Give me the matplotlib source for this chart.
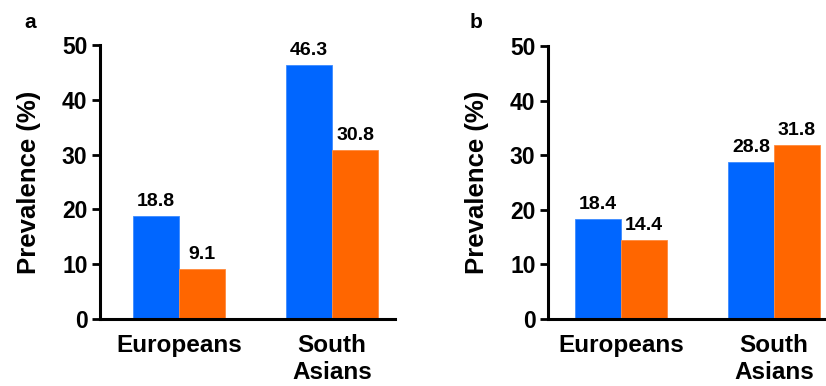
import numpy as np
import matplotlib
matplotlib.use("Agg")
import matplotlib.pyplot as plt

plt.rcParams['font.family'] = ['Liberation Sans', 'DejaVu Sans']
plt.rcParams['font.weight'] = 'bold'

groups = ["Europeans", "South\nAsians"]
blue_a = [18.8, 46.3]
orange_a = [9.1, 30.8]
blue_b = [18.4, 28.8]
orange_b = [14.4, 31.8]
panels = ["a", "b"]

blue = "#0066FF"
orange = "#FF6600"

fig = plt.figure(figsize=(8.26, 3.86), dpi=100)
ax_a = fig.add_axes([100/826, 1-319/386, 295/826, 274/386])
ax_b = fig.add_axes([548/826, 1-319/386, 278/826, 273/386])

def draw(ax, b_vals, o_vals, xlim, letter, letter_x):
    x = np.arange(len(groups))
    w = 0.3
    ax.bar(x - w/2, b_vals, w, color=blue, edgecolor="#3d8bff", linewidth=0.6)
    ax.bar(x + w/2, o_vals, w, color=orange, edgecolor="#ff8a3d", linewidth=0.6)
    for xi, v in zip(x, b_vals):
        ax.text(xi - w/2, v + 1.1, f"{v}", ha="center", va="bottom", fontsize=14, fontweight="bold")
    for xi, v in zip(x, o_vals):
        ax.text(xi + w/2, v + 1.1, f"{v}", ha="center", va="bottom", fontsize=14, fontweight="bold")
    ax.set_ylim(0, 50)
    ax.set_xlim(*xlim)
    ax.set_yticks([0, 10, 20, 30, 40, 50])
    ax.set_xticks(x)
    ax.set_xticklabels(groups, fontsize=17.5, fontweight="bold", linespacing=1.22)
    ax.tick_params(axis="x", length=0, pad=11)
    ax.tick_params(axis="y", direction="out", length=6, width=2, labelsize=16.5, pad=3)
    for lab in ax.get_yticklabels():
        lab.set_fontweight("bold")
    ax.set_ylabel("Prevalence (%)", fontsize=18.5, fontweight="bold", labelpad=15)
    ax.spines["top"].set_visible(False)
    ax.spines["right"].set_visible(False)
    ax.spines["left"].set_linewidth(2.2)
    ax.spines["bottom"].set_linewidth(2.2)
    ax.text(letter_x, 1 - 28/386, letter, transform=fig.transFigure, fontsize=15, fontweight="bold",
            ha="left", va="baseline")

draw(ax_a, blue_a, orange_a, (-0.516, 1.41), panels[0], 24/826)
draw(ax_b, blue_b, orange_b, (-0.477, 1.34), panels[1], 470/826)

fig.savefig("out.png", dpi=100)
